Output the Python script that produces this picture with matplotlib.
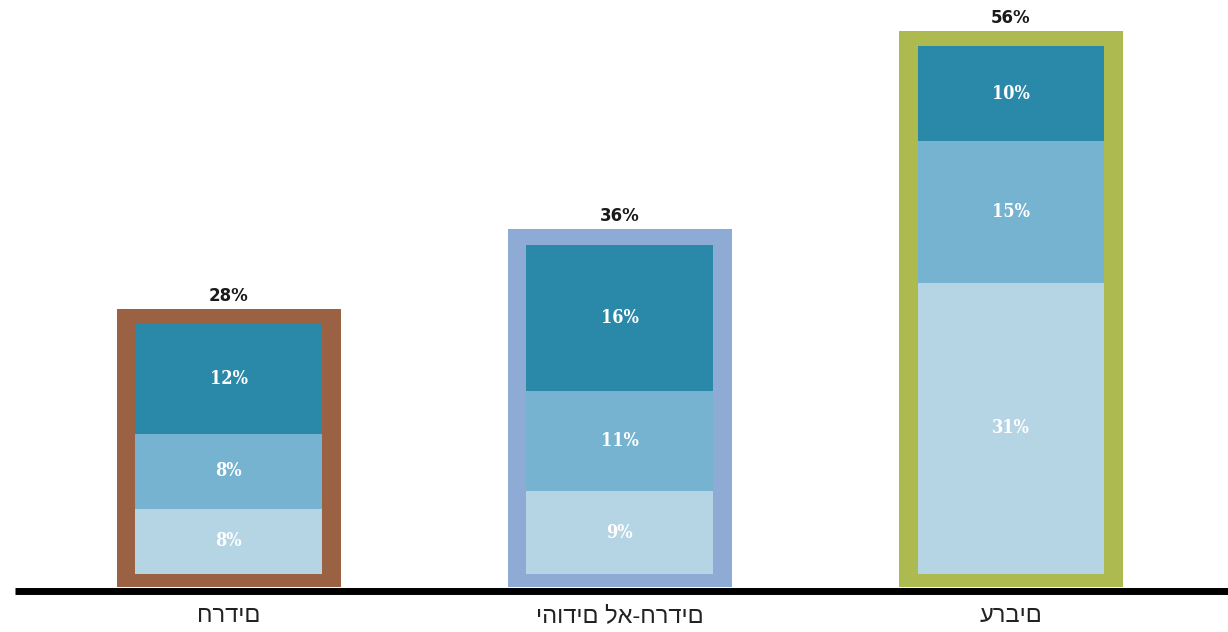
import matplotlib.pyplot as plt
import numpy as np

# groups, left to right
groups = ["חרדים", "יהודים לא-חרדים", "ערבים"]
totals = [28, 36, 56]
total_labels = ["28%", "36%", "56%"]

# stacked segments, bottom to top (heights)
seg_light = [7.3, 9, 30.9]
seg_mid = [8.4, 11, 15]
seg_dark = [12.3, 16, 10.1]
light_labels = ["8%", "9%", "31%"]
mid_labels = ["8%", "11%", "15%"]
dark_labels = ["12%", "16%", "10%"]

frame_colors = ["#9a6142", "#8eabd5", "#adba4f"]
seg_colors = ["#b5d5e5", "#76b3d0", "#2a88a8"]

fig = plt.figure(figsize=(12.28, 6.32), dpi=100)
ax = fig.add_axes([15 / 1228, 38 / 632, 1 - 15 / 1228, 1 - 38 / 632])

x = np.arange(len(groups))
border = 1.45
ax.bar(x, totals, width=0.573, color=frame_colors, zorder=1)

scale = [(t - 2 * border) / t for t in totals]
bottom = np.full(len(groups), border - 0.1)
for vals, labels, col in [(seg_light, light_labels, seg_colors[0]),
                          (seg_mid, mid_labels, seg_colors[1]),
                          (seg_dark, dark_labels, seg_colors[2])]:
    h = np.array(vals) * np.array(scale)
    ax.bar(x, h, width=0.478, bottom=bottom, color=col, zorder=2)
    for xi, b, hi, lab in zip(x, bottom, h, labels):
        ax.text(xi, b + hi / 2, lab, ha="center", va="center", color="white",
                fontsize=13, family="DejaVu Serif", stretch="condensed",
                fontweight="bold", zorder=3)
    bottom = bottom + h

for xi, t, lab in zip(x, totals, total_labels):
    ax.text(xi, t + 0.4, lab, ha="center", va="bottom", fontsize=12,
            fontweight="bold", color="#1a1a1a")

ax.axhline(-0.35, color="black", lw=5, zorder=4, clip_on=False,
           solid_capstyle="butt")

ax.set_xlim(-0.547, 2.555)
ax.set_ylim(-0.7, 59.1)
ax.set_xticks(x)
ax.set_xticklabels(groups, fontsize=17, color="#222222",
                   family=["Liberation Sans", "DejaVu Sans"])
ax.tick_params(axis="x", length=0, pad=8)
ax.set_yticks([])
for s in ax.spines.values():
    s.set_visible(False)

fig.savefig("out.png", dpi=100)
